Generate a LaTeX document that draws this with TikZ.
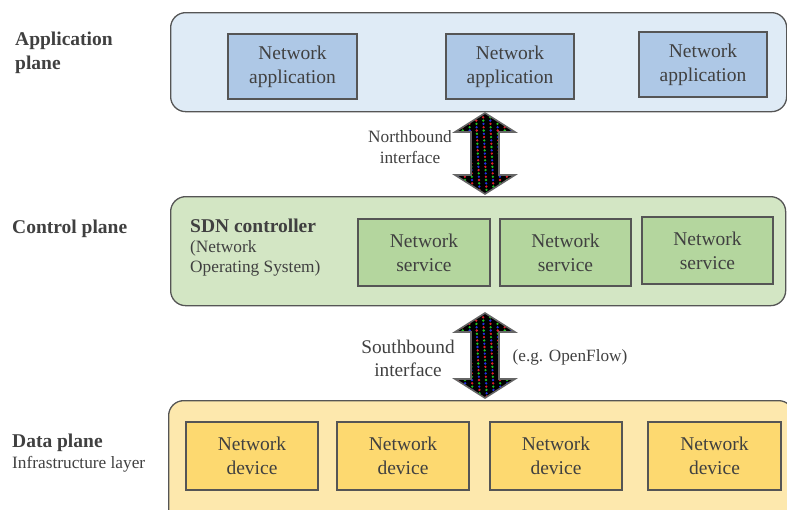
\documentclass[tikz,border=0pt]{standalone}
\usepackage{fontspec}
\setmainfont{Liberation Serif}
\definecolor{txt}{HTML}{404040}
\definecolor{edge}{HTML}{555555}
\definecolor{appbg}{HTML}{DFEBF6}
\definecolor{appbox}{HTML}{AEC8E6}
\definecolor{ctlbg}{HTML}{D3E6C4}
\definecolor{ctlbox}{HTML}{B4D69E}
\definecolor{datbg}{HTML}{FDE8AD}
\definecolor{datbox}{HTML}{FDD970}
\definecolor{dotred}{HTML}{E0202A}
\definecolor{dotgreen}{HTML}{20C020}
\definecolor{dotblue}{HTML}{2030E0}
\newcommand\dblarrow[3]{%
  \begin{scope}
    \path[clip] (#1,#2) -- (#1+30,#2+19) -- (#1+14,#2+19) -- (#1+14,#3-19) -- (#1+30,#3-19)
      -- (#1,#3) -- (#1-30,#3-19) -- (#1-14,#3-19) -- (#1-14,#2+19) -- (#1-30,#2+19) -- cycle;
    \fill[black] (#1-31,#2-1) rectangle (#1+31,#3+1);
    \foreach \c [count=\k] in {-28,-21,-14,-7,0,7,14,21,28} {
      \foreach \j in {0,...,30} {
        \pgfmathtruncatemacro\m{mod(\k+\j,3)}
        \ifcase\m \def\dcol{dotred}\or\def\dcol{dotgreen}\else\def\dcol{dotblue}\fi
        \fill[\dcol] (#1+\c-2+0.15*\j,#2+1+\j*3.3) circle (1.3pt);
      }
    }
  \end{scope}
  \draw[edge!90,line width=1.6pt,line join=miter] (#1,#2) -- (#1+30,#2+19) -- (#1+14,#2+19) -- (#1+14,#3-19) -- (#1+30,#3-19)
      -- (#1,#3) -- (#1-30,#3-19) -- (#1-14,#3-19) -- (#1-14,#2+19) -- (#1-30,#2+19) -- cycle;
}
\begin{document}
\begin{tikzpicture}[x=1pt,y=-1pt,
  every node/.style={text=txt},
  plane/.style={draw=edge,line width=1.3pt,rounded corners=15pt,anchor=north west,inner sep=0pt},
  unit/.style={draw=edge,line width=1.3pt,align=center,inner sep=0pt,
    font=\fontsize{19.5}{24}\selectfont},
  lbl/.style={align=left,anchor=north west,inner sep=0pt},
  ifc/.style={align=center,inner sep=0pt}]
\useasboundingbox (0,0) rectangle (787,509);
\begin{scope}
\clip (0,0) rectangle (787,509);
% planes
\node[plane,fill=appbg,minimum width=616pt,minimum height=99pt] (app) at (170,12) {};
\node[plane,fill=ctlbg,minimum width=615pt,minimum height=109pt] (ctl) at (170,196) {};
\node[plane,fill=datbg,minimum width=625pt,minimum height=140pt] (dat) at (168,400) {};
\end{scope}
% application boxes
\node[unit,fill=appbox,minimum width=129pt,minimum height=65pt] (a1) at (292.5,66.5) {Network\\application};
\node[unit,fill=appbox,minimum width=128pt,minimum height=65pt] (a2) at (510,66.5) {Network\\application};
\node[unit,fill=appbox,minimum width=128pt,minimum height=65pt] (a3) at (703,64.5) {Network\\application};
% control boxes
\node[unit,fill=ctlbox,minimum width=132pt,minimum height=67pt] (s1) at (424,252.5) {Network\\service};
\node[unit,fill=ctlbox,minimum width=131pt,minimum height=67pt] (s2) at (565.5,252.5) {Network\\service};
\node[unit,fill=ctlbox,minimum width=131pt,minimum height=67pt] (s3) at (707.5,250.5) {Network\\service};
% data boxes
\node[unit,fill=datbox,minimum width=132pt,minimum height=68pt] (d1) at (252,456) {Network\\device};
\node[unit,fill=datbox,minimum width=132pt,minimum height=68pt] (d2) at (403,456) {Network\\device};
\node[unit,fill=datbox,minimum width=132pt,minimum height=68pt] (d3) at (556,456) {Network\\device};
\node[unit,fill=datbox,minimum width=133pt,minimum height=68pt] (d4) at (714.5,456) {Network\\device};
% plane labels
\node[lbl,font=\fontsize{19.5}{24}\selectfont\bfseries] (lapp) at (15,32) {Application\\plane};
\node[lbl,font=\fontsize{19.5}{22}\selectfont\bfseries] (lctl) at (12,220) {Control plane};
\node[lbl,font=\fontsize{19.5}{22}\selectfont\bfseries] (ldat) at (12,434) {Data plane};
\node[lbl,font=\fontsize{17.3}{20}\selectfont] (linf) at (12,456) {Infrastructure layer};
% SDN controller
\node[lbl,font=\fontsize{19.5}{22}\selectfont\bfseries] (sdn) at (190,219) {SDN controller};
\node[lbl,font=\fontsize{17.3}{20}\selectfont] (nos) at (190,240) {(Network\\Operating System)};
% interface arrows
\dblarrow{485}{113}{194}
\dblarrow{485}{313}{398}
\node[ifc,font=\fontsize{17.3}{21}\selectfont] (nb) at (410,147) {Northbound\\interface};
\node[ifc,font=\fontsize{19.3}{23}\selectfont] (sb) at (408,358) {Southbound\\interface};
\node[ifc,font=\fontsize{17.2}{20}\selectfont] (of) at (570,357) {(e.g. OpenFlow)};
\end{tikzpicture}
\end{document}
